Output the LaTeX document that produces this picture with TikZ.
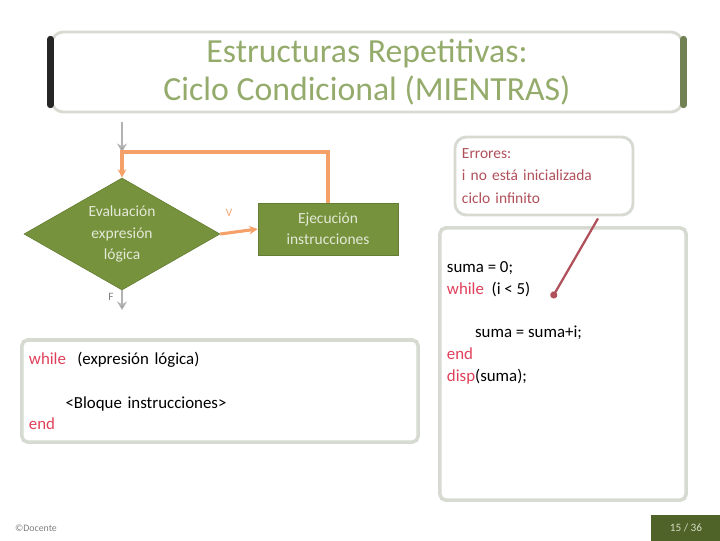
\documentclass[tikz,border=0pt]{standalone}
\usepackage{fontspec}
\setmainfont{Carlito}
\usetikzlibrary{arrows.meta,positioning,shapes.geometric}
\definecolor{olive}{HTML}{76923C}
\definecolor{darkolive}{HTML}{4F6228}
\definecolor{titlegreen}{HTML}{94AB6C}
\definecolor{boxgray}{HTML}{D7DAD1}
\definecolor{backor}{HTML}{F4A068}
\definecolor{keyred}{HTML}{E0405A}
\definecolor{notered}{HTML}{B0505A}

\begin{document}
\begin{tikzpicture}[x=0.025cm,y=-0.025cm,>=Stealth,
    greenbox/.style={fill=olive,draw=olive!85!black,text=white!80!olive,align=center,font=\fontsize{11}{15}\selectfont},
    codebox/.style={draw=boxgray,line width=2.5pt,rounded corners=4pt,fill=white},
    codetext/.style={align=left,inner sep=0pt,font=\fontsize{12}{15.5}\selectfont},
    back/.style={draw=backor,line width=2.2pt,-{Stealth[length=6pt,width=6pt]}},
    flow/.style={draw=gray!60,line width=1.6pt,-{Stealth[length=6pt,width=7pt,fill=darkolive!70!gray]}}]
  \useasboundingbox (0,0) rectangle (720,540);

  % title
  \node (title) at (367,72) [draw=boxgray,line width=2pt,rounded corners=8pt,minimum width=15.75cm,minimum height=2.0cm,
     text=titlegreen,align=center,font=\fontsize{24}{27}\selectfont] {Estructuras Repetitivas:\\Ciclo Condicional (MIENTRAS)};
  \draw[line width=4.5pt,black!85,line cap=round] ([yshift=-6pt]title.north west) -- ([yshift=6pt]title.south west);
  \draw[line width=4.5pt,darkolive!80,line cap=round] ([yshift=-6pt]title.north east) -- ([yshift=6pt]title.south east);

  % flowchart
  \node (eval) at (122,234) [greenbox,diamond,aspect=1.75,minimum width=4.9cm,minimum height=2.8cm,inner sep=0pt] {Evaluación\\expresión\\lógica};
  \node (exec) at (328,229) [greenbox,rectangle,minimum width=3.5cm,minimum height=1.3cm] {Ejecución\\instrucciones};
  \coordinate (start) at (122,122);
  \coordinate (join) at (122,152);
  \coordinate (exit) at (122,310);
  \draw[flow] (start) -- (join);
  \draw[back] (exec.north) |- (join) -- (eval.north);
  \draw[back] (eval.east) -- (exec.west);
  \node (vlab) at (229,213) [text=backor,font=\fontsize{8}{9}\selectfont] {V};
  \draw[flow] (eval.south) -- (exit);
  \node (flab) at (111,297) [text=gray,font=\fontsize{8}{9}\selectfont] {F};

  % general form
  \node (cond) at (220,391) [codebox,codetext,minimum width=9.9cm,minimum height=2.55cm,text width=9.55cm]
    {\textcolor{keyred}{while} \ (expresión lógica)\\[15.5pt]
     \hspace*{26pt}<Bloque instrucciones>\\
     \textcolor{keyred}{end}};

  % example
  \node (codebox) at (563,364) [codebox,minimum width=6.15cm,minimum height=6.8cm] {};
  \node (code) [codetext,anchor=north west] at ([xshift=6pt,yshift=-25pt]codebox.north west)
    {suma = 0;\\
     \textcolor{keyred}{while} \ (i < 5)\\[15.5pt]
     \hspace*{20pt}suma = suma+i;\\
     \textcolor{keyred}{end}\\
     \textcolor{keyred}{disp}(suma);};

  % note
  \node (note) at (544,176) [codebox,line width=2pt,rounded corners=8pt,minimum width=4.45cm,minimum height=1.95cm,
     text=notered,align=left,font=\fontsize{11}{16}\selectfont,text width=4.1cm] {Errores:\\i no está inicializada\\ciclo infinito};
  \coordinate (tip) at (552,298);
  \draw[notered,line width=1.6pt,-{Circle[length=5pt]}] (note.south) ++(54,2) coordinate (from) (from) -- (tip);

  % footer
  \node (author) at (36,528) [text=gray,font=\fontsize{7}{8}\selectfont] {©Docente};
  \node (page) at (686,528) [fill=darkolive,text=white!70!olive,minimum width=1.75cm,minimum height=0.65cm,font=\fontsize{8}{9}\selectfont] {15 / 36};
\end{tikzpicture}
\end{document}
